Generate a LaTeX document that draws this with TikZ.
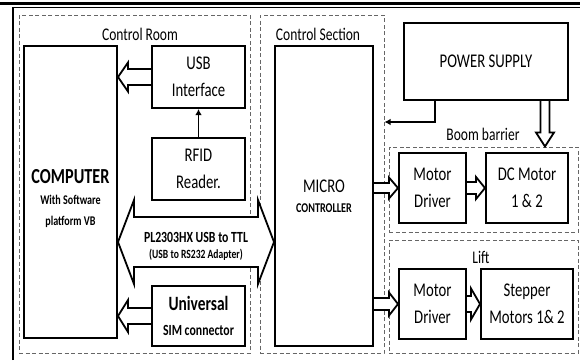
\documentclass[tikz,border=0pt]{standalone}
\usepackage{fontspec}
\setmainfont[FakeStretch=0.76]{Carlito}
\usetikzlibrary{
    arrows.meta,
    calc
}
\pgfdeclarelayer{back}
\pgfdeclarelayer{mid}
\pgfsetlayers{back,mid,main}
\tikzset
{
  block/.style={draw,line width=2pt,align=center,inner sep=0pt,font=\fontsize{19.4}{27}\selectfont},
  region/.style={draw=black!60,line width=1pt,dash pattern=on 4pt off 2.5pt,inner sep=0pt},
  caption/.style={inner sep=0pt,font=\fontsize{17.8}{20}\selectfont},
  hollow/.style={draw,line width=1.8pt,fill=white,line join=miter},
  wire/.style={draw,line width=1.6pt,-{Latex[length=6pt,width=6.5pt]}}
}
% block arrow: from, to, shaft half width, head half width, head length
\newcommand{\blockarrow}[5]{%
  \coordinate (ba-h) at ($(#2)!#5!(#1)$);
  \draw[hollow] ($(#1)!#3!90:(#2)$) -- ($(ba-h)!#3!90:(#2)$) -- ($(ba-h)!#4!90:(#2)$)
    -- (#2) -- ($(ba-h)!#4!-90:(#2)$) -- ($(ba-h)!#3!-90:(#2)$) -- ($(#1)!#3!-90:(#2)$);
}

\begin{document}
\begin{tikzpicture}[x=1pt,y=-1pt]
    \useasboundingbox (0,0) rectangle (580,360);

    % page rule and outer frame
    \draw[line width=3pt] (0,3.5) -- (580,3.5);
    \draw[line width=1.2pt] (13,360) -- (13,7.5) -- (580,7.5);

    % dashed sections
    \begin{pgfonlayer}{back}
        \node[region,minimum width=231pt,minimum height=338pt] (room) at (134.5,184) {};
        \node[region,minimum width=124pt,minimum height=338pt] (sect) at (322,184) {};
        \node[region,minimum width=189pt,minimum height=85pt] (boom) at (483.5,189.5) {};
        \node[region,minimum width=189pt,minimum height=113pt] (lift) at (483.5,296.5) {};
        \node[caption] (roomlbl) at (140,34) {Control Room};
        \node[caption] (sectlbl) at (318,34) {Control Section};
        \node[caption] (boomlbl) at (483,134) {Boom barrier};
        \node[caption] (liftlbl) at (481,257) {Lift};
    \end{pgfonlayer}

    % control room
    \node[block,minimum width=93pt,minimum height=292pt,font=\bfseries\fontsize{13.3}{21}\selectfont] (pc) at (70.5,192)
        {{}\\[6.5pt]{\fontsize{21.4}{21}\selectfont COMPUTER}\\With Software\\platform VB};
    \node[block,minimum width=93pt,minimum height=62pt] (usb) at (198.5,77) {USB\\Interface};
    \node[block,minimum width=93pt,minimum height=62pt] (rfid) at (198.5,169) {RFID\\Reader.};
    \node[block,minimum width=93pt,minimum height=60pt,font=\bfseries\fontsize{15.5}{24.6}\selectfont] (sim) at (198.5,316)
        {{\fontsize{20.3}{24}\selectfont Universal}\\SIM connector};
    \node[inner sep=0pt,align=center,font=\bfseries\fontsize{12.6}{16.5}\selectfont] (link) at (196,246.5)
        {{\fontsize{15.5}{16}\selectfont PL2303HX USB to TTL}\\(USB to RS232 Adapter)};

    % control section and loads
    \node[block,minimum width=98pt,minimum height=300pt,font=\fontsize{19.4}{20.5}\selectfont] (mcu) at (324,196)
        {MICRO\\{\bfseries\fontsize{13.4}{14}\selectfont CONTROLLER}};
    \node[block,minimum width=164pt,minimum height=77pt] (power) at (486,61.5) {POWER SUPPLY};
    \node[block,minimum width=67pt,minimum height=70pt] (drv1) at (432.5,188) {Motor\\Driver};
    \node[block,minimum width=82pt,minimum height=70pt] (dc) at (527,188) {DC Motor\\1 \& 2};
    \node[block,minimum width=67pt,minimum height=70pt] (drv2) at (432.5,304) {Motor\\Driver};
    \node[block,minimum width=92pt,minimum height=70pt] (step) at (527,304) {Stepper\\Motors 1\& 2};

    % connectors
    \begin{pgfonlayer}{mid}
        \coordinate (usbin) at (usb.west -| pc.east);
        \coordinate (simin) at (sim.west -| pc.east);
        \coordinate (busl) at (pc.east |- 0,242);
        \coordinate (busr) at (mcu.west |- 0,242);
        \coordinate (mcuo1) at (mcu.east |- drv1.west);
        \coordinate (mcuo2) at (mcu.east |- drv2.west);
        \coordinate (pwro) at (power.south -| 545,0);
        \coordinate (pwri) at (boom.north -| 545,0);
        \blockarrow{usb.west}{usbin}{8pt}{14.5pt}{10pt}
        \blockarrow{sim.west}{simin}{8pt}{16pt}{10pt}
        \blockarrow{mcuo1}{drv1.west}{5pt}{10.5pt}{9pt}
        \blockarrow{drv1.east}{dc.west}{6pt}{11pt}{9pt}
        \blockarrow{mcuo2}{drv2.west}{6pt}{11.5pt}{9pt}
        \blockarrow{drv2.east}{step.west}{8pt}{15.5pt}{9pt}
        \blockarrow{pwro}{pwri}{4.5pt}{9pt}{14pt}
        % two-way bus
        \draw[hollow] (busl) -- ++(16,-42) -- ++(0,17) -- ($(busr)+(-16,-25)$) -- ++(0,-17) -- (busr)
            -- ++(-16,42) -- ++(0,-17) -- ($(busl)+(16,25)$) -- ++(0,17) -- cycle;
    \end{pgfonlayer}
    \draw[wire] (rfid.north) -- (usb.south);
    \draw[wire] (power.south -| 435,0) |- (sect.east |- 0,122);
\end{tikzpicture}
\end{document}
